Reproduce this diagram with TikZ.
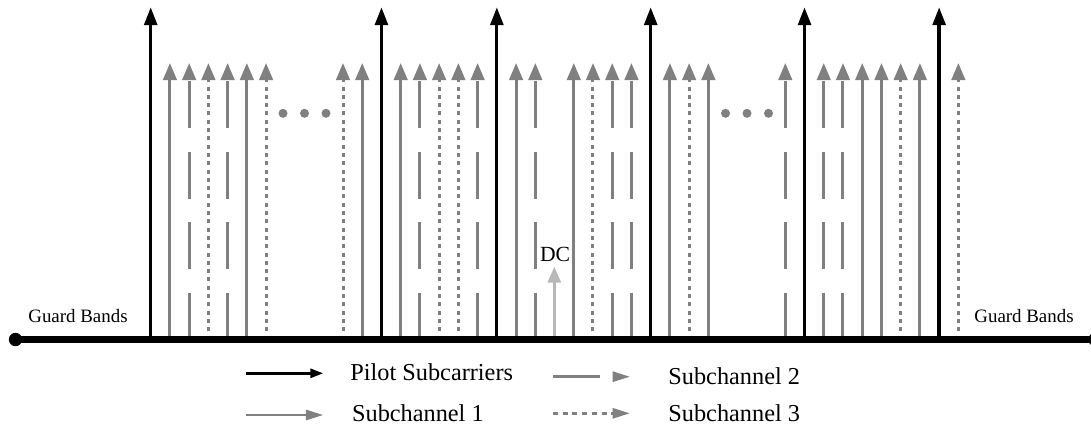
\documentclass[tikz,border=0pt]{standalone}
\usepackage{fontspec}
\setmainfont{Liberation Serif}
\usetikzlibrary{arrows.meta}
\definecolor{subgray}{gray}{0.5}
\definecolor{dcgray}{gray}{0.72}
\tikzset{
  pilot/.style={black, line width=1.65pt, -{Triangle[length=8.9pt,width=6.4pt]}},
  subone/.style={subgray, line width=1.5pt, -{Triangle[length=8.5pt,width=6.7pt]}},
  subtwo/.style={subone, dash pattern=on 23.5pt off 11.67pt},
  subthree/.style={subone, dash pattern=on 2pt off 2.15pt},
  dcarrow/.style={dcgray, line width=1.5pt, -{Triangle[length=8pt,width=6.5pt]}},
  axis/.style={black, line width=3.25pt},
  legpilot/.style={black, line width=1.4pt, -{Triangle[length=6.5pt,width=4.5pt]}},
  legone/.style={subgray, line width=1.4pt, -{Triangle[length=8.7pt,width=5pt]}},
  legtwo/.style={legone, dash pattern=on 23.5pt off 15pt},
  legthree/.style={legone, dash pattern=on 2.5pt off 2.35pt},
  guard/.style={inner sep=0pt, font=\fontsize{9.45}{11}\selectfont},
  legtext/.style={inner sep=0pt, anchor=base west, font=\fontsize{12.15}{14}\selectfont},
  dctext/.style={inner sep=0pt, anchor=base, font=\fontsize{10.8}{12}\selectfont},
  dotfill/.style={subgray},
}
\begin{document}
\begin{tikzpicture}[x=0.5pt,y=-0.5pt]
\clip (0,0) rectangle (1091,425);

% subcarriers: index/type, spacing 19.23 units from the first pilot
\foreach \i/\t in {1/one,2/two,3/three,4/two,5/one,6/three,10/three,11/one,
                   13/one,14/two,15/three,16/three,17/two,
                   19/one,20/two,22/one,23/three,24/two,25/two,
                   27/one,28/three,29/one,33/two,
                   35/two,36/two,37/one,38/one,39/three,40/one,42/three}{
  \pgfmathsetmacro\xx{150.7+19.23*\i}
  \coordinate (b\i) at (\xx,339.5);
  \coordinate (t\i) at (\xx,63);
  \draw[sub\t] (b\i) -- (t\i);
}

% pilot subcarriers
\foreach \i in {0,12,18,26,34,41}{
  \pgfmathsetmacro\xx{150.7+19.23*\i}
  \coordinate (b\i) at (\xx,339.5);
  \coordinate (t\i) at (\xx,7.3);
  \draw[pilot] (b\i) -- (t\i);
}

% DC subcarrier
\coordinate (b21) at (554.3,339.5);
\coordinate (t21) at (554.3,266.7);
\draw[dcarrow] (b21) -- (t21);
\node[dctext] (dc) at (555,261) {DC};

% ellipsis dots
\foreach \x in {283,304.5,326}{
  \fill[dotfill] (\x,113.3) circle[radius=2.25pt];
}
\foreach \x in {725.5,747,768.5}{
  \fill[dotfill] (\x,113.3) circle[radius=2.25pt];
}

% frequency axis
\coordinate (L) at (15.5,339.5);
\coordinate (R) at (1095,339.5);
\draw[axis] (L) -- (R);
\fill (L) circle[radius=3.35pt];
\fill (R) circle[radius=3.35pt];

\node[guard, anchor=base west] (gbl) at (28,322.7) {Guard Bands};
\node[guard, anchor=base west] (gbr) at (974,322.7) {Guard Bands};

% legend
\coordinate (p0) at (246,373.3);  \coordinate (p1) at (323.3,373.3);
\coordinate (s10) at (246,415);   \coordinate (s11) at (323.3,415);
\coordinate (s20) at (553,376.7); \coordinate (s21) at (630,376.7);
\coordinate (s30) at (553,413.3); \coordinate (s31) at (630,413.3);
\draw[legpilot] (p0) -- (p1);
\draw[legone] (s10) -- (s11);
\draw[legtwo] (s20) -- (s21);
\draw[legthree] (s30) -- (s31);
\node[legtext] (lp) at (350,380) {Pilot Subcarriers};
\node[legtext] (l1) at (351.7,421.7) {Subchannel 1};
\node[legtext] (l2) at (668,384) {Subchannel 2};
\node[legtext] (l3) at (668,421.7) {Subchannel 3};
\end{tikzpicture}
\end{document}
